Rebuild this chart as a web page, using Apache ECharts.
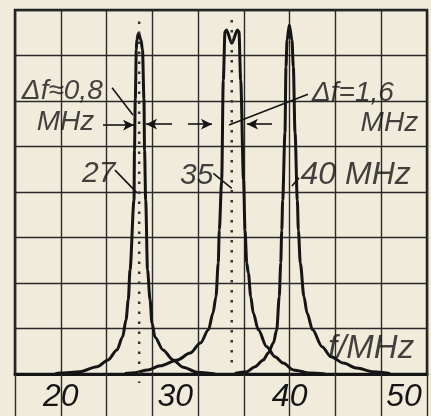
<!DOCTYPE html>
<html>
<head>
<meta charset="utf-8">
<script src="https://cdn.jsdelivr.net/npm/echarts@6/dist/echarts.min.js"></script>
<style>
html, body { margin: 0; padding: 0; background: #f1ebdb; }
#chart { width: 431px; height: 416px; }
</style>
</head>
<body>
<div id="chart"></div>
<script>
// resonance curves, [f in MHz, relative amplitude]
var curve27 = [[19.5,0],[19.93,0.02],[21.68,0.05],[23.17,0.16],[24.13,0.31],[24.91,0.53],[25.41,0.82],[25.7,1.19],[25.9,1.63],[26.05,2.29],[26.4,3.82],[26.44,4.92],[26.51,6.04],[26.6,7.12],[26.64,7.34],[26.79,7.49],[27.01,7.34],[27.14,7.12],[27.27,6.04],[27.32,4.92],[27.42,3.82],[27.58,2.29],[27.8,1.63],[27.97,1.12],[28.23,0.81],[28.93,0.53],[29.81,0.31],[30.68,0.15],[31.9,0.04],[33.48,0]];
var curve35 = [[25.6,0.01],[26.5,0.03],[27.6,0.09],[28.7,0.18],[30.2,0.31],[31.3,0.46],[32.2,0.68],[32.9,0.97],[33.3,1.34],[33.56,1.7],[33.76,2.44],[33.85,3.16],[34.06,4.26],[34.2,6.46],[34.35,7.52],[34.48,7.56],[34.94,7.27],[35.44,7.56],[35.57,7.52],[35.72,6.46],[35.97,4.26],[36.1,3.16],[36.25,2.44],[36.39,2.22],[36.6,1.7],[36.82,1.34],[37.26,0.97],[37.99,0.6],[38.72,0.38],[39.44,0.24],[40.32,0.09],[41.78,0.02],[43.1,0]];
var curve40 = [[35.2,0.01],[36.27,0.05],[36.97,0.16],[37.7,0.31],[38.13,0.46],[38.57,0.68],[38.87,0.97],[39.09,1.7],[39.22,2.44],[39.31,3.16],[39.39,3.82],[39.59,5.3],[39.68,6.75],[39.77,7.34],[39.97,7.67],[40.2,7.34],[40.32,6.75],[40.47,5.3],[40.67,3.82],[40.76,3.16],[40.93,2.44],[41.25,1.7],[41.52,1.34],[42.0,0.97],[42.83,0.6],[43.61,0.38],[44.69,0.24],[45.86,0.13],[47.28,0.05],[48.77,0.01]];

var xTicks = [20, 30, 40, 50];

// dotted marker lines at 27 and 35 MHz
var dots27 = [[26.85, 7.75], [26.85, -0.2]];
var dots35 = [[34.94, 7.78], [34.94, 0.24]];

// bandwidth arrows, start -> arrow head
var arrows = [
  [[23.69, 5.47], [26.4, 5.47]],
  [[29.72, 5.49], [27.45, 5.49]],
  [[31.12, 5.49], [33.21, 5.49]],
  [[38.46, 5.49], [36.27, 5.49]]
];
// leader lines from the notes
var leaders = [
  [[24.48, 6.29], [26.31, 5.69]],
  [[41.6, 6.15], [34.7, 5.47]],
  [[24.74, 4.48], [26.66, 3.98]],
  [[33.33, 4.41], [34.94, 4.08]],
  [[40.2, 4.13], [40.82, 4.31]]
];

// notes: [f, y, text, font size]
var notes = [
  [16.6, 6.21, 'Δf≈0,8', 28],
  [17.9, 5.54, 'MHz', 28],
  [21.85, 4.4, '27', 30],
  [30.42, 4.35, '35', 30],
  [40.95, 4.37, '40 MHz', 32],
  [41.95, 6.18, 'Δf=1,6', 28],
  [46.2, 5.52, 'MHz', 28],
  [43.35, 0.56, 'f/MHz', 33]
];

var font = 'Liberation Sans, Arial, sans-serif';
var ink = '#151515';
var gridInk = '#2a2a2a';

function curve(data) {
  return {
    type: 'line', data: data, symbol: 'none', smooth: 0.3, smoothMonotone: 'x',
    lineStyle: { color: ink, width: 3 }, silent: true
  };
}

function segs(list, arrow) {
  return list.map(function (s) {
    return [{ coord: s[0], symbol: 'none' }, { coord: s[1], symbol: arrow ? 'arrow' : 'none', symbolSize: [8, 11] }];
  });
}

var chart = echarts.init(document.getElementById('chart'));
chart.setOption({
  animation: false,
  backgroundColor: '#f1ebdb',
  grid: {
    left: 15, right: 4, top: 10, bottom: 42, containLabel: false, outerBoundsMode: 'none',
    show: true, borderColor: '#1e1e1e', borderWidth: 2.5
  },
  xAxis: [{
    // graph paper lines, carried on below the baseline by long ticks
    type: 'value', min: 16, max: 52, interval: 4, position: 'bottom',
    axisLine: { show: true, onZero: false, lineStyle: { color: ink, width: 3 } },
    axisTick: { show: true, length: 44, lineStyle: { color: gridInk, width: 1.4 } },
    axisLabel: { show: false },
    splitLine: { show: true, lineStyle: { color: gridInk, width: 1.4 } }
  }, {
    type: 'value', min: 16, max: 52, interval: 2, position: 'bottom',
    axisLine: { show: false, onZero: false },
    axisTick: { show: false }, splitLine: { show: false },
    axisLabel: {
      margin: 7, color: ink, fontSize: 32, fontStyle: 'italic', fontFamily: font,
      formatter: function (v) { return xTicks.indexOf(v) >= 0 ? String(v) : ''; }
    }
  }],
  yAxis: {
    type: 'value', min: 0, max: 8, interval: 1,
    axisLine: { show: false, onZero: false }, axisTick: { show: false }, axisLabel: { show: false },
    splitLine: { show: true, lineStyle: { color: gridInk, width: 1.4 } }
  },
  series: [
    curve(curve27), curve(curve35), curve(curve40),
    { type: 'line', data: dots27, symbol: 'none', silent: true, clip: false, lineStyle: { color: '#333', width: 2.5, type: [2.5, 7.5] } },
    { type: 'line', data: dots35, symbol: 'none', silent: true, clip: false, lineStyle: { color: '#333', width: 2.5, type: [2.5, 7.5] } },
    {
      type: 'scatter', symbolSize: 0, silent: true,
      data: notes.map(function (n) {
        return { value: [n[0], n[1]], label: { formatter: n[2], fontSize: n[3] } };
      }),
      label: { show: true, position: 'right', distance: 0, color: ink, fontStyle: 'italic', fontFamily: font },
      markLine: {
        silent: true, animation: false, label: { show: false },
        lineStyle: { color: ink, width: 1.6, type: 'solid' },
        data: segs(arrows, true).concat(segs(leaders, false))
      }
    }
  ]
});
</script>
</body>
</html>
